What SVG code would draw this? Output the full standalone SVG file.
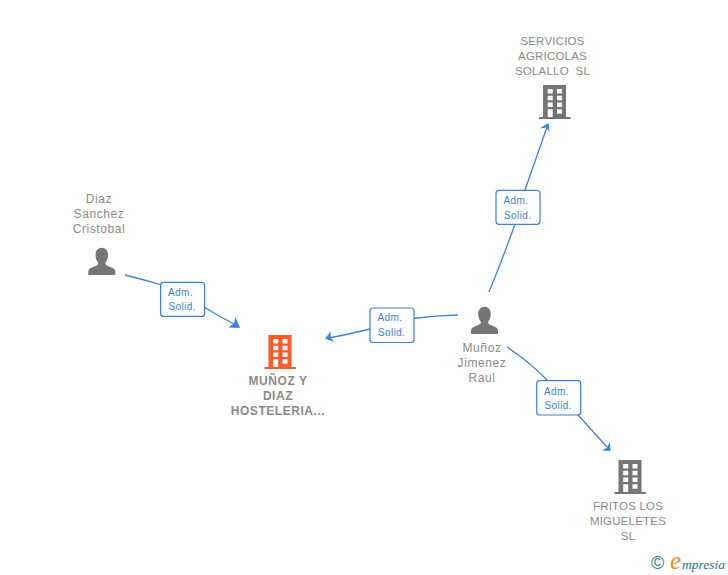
<svg xmlns="http://www.w3.org/2000/svg" xmlns:xlink="http://www.w3.org/1999/xlink" width="728" height="575" viewBox="0 0 728 575">
<style>
text{font-family:"Liberation Sans",Arial,sans-serif}
.n{font-size:11.5px;fill:#8a8a8a;text-anchor:middle;letter-spacing:.2px}
.p{font-size:12px;letter-spacing:.6px}
.b{font-weight:bold;font-size:12px;letter-spacing:.55px}
.l{font-size:10px;fill:#3d80e0;letter-spacing:.4px}
.c{fill:none;stroke:#3d80e0;stroke-width:1.3}
.a{fill:#3d80e0}
.box{fill:#fff;stroke:#3d80e0;stroke-width:1.2}
.g{fill:#757575}
.o{fill:#ff5a2b}
</style>
<defs>
<path id="bld" fill-rule="evenodd" d="M4 0H27V32H31.500V34H0V32H4ZM8.700 4V8.500H13.700V4ZM18 4V8.500H23V4ZM8.700 10.700V15.200H13.700V10.700ZM18 10.700V15.200H23V10.700ZM8.700 17.500V22H13.700V17.500ZM18 17.500V22H23V17.500ZM8.700 24.300V32H13.700V24.300ZM18 24.300V28.800H23V24.300Z"/>
<path id="per" d="M13.500 0C17.200 0 19.800 3 19.800 7.200C19.800 10.400 18.600 13 17.300 14.600V16.400C17.300 17.400 18.600 18 21.500 19C25 20.200 27 21.400 27 24V27.400H0V24C0 21.400 2 20.200 5.500 19C8.400 18 9.700 17.400 9.700 16.400V14.600C8.400 13 7.200 10.400 7.200 7.200C7.200 3 9.800 0 13.500 0Z"/>
</defs>
<g id="connectors">
<path class="c" d="M125 275Q145 280 162 285"/>
<path class="c" d="M204 307Q220 317 236 325"/>
<path class="a" d="M240 328L228.500 327.500L234 323.500L235.500 317Z"/>
<path class="c" d="M458 315Q435 315.500 413 318.500"/>
<path class="c" d="M370 329Q350 334 329 338"/>
<path class="a" d="M325 338.500L331 331.500L330.500 337.500L334 342Z"/>
<path class="c" d="M489 292Q503 258 515 224"/>
<path class="c" d="M525 190L547 127"/>
<path class="a" d="M548.500 123L549.500 132L546.500 127.500L539.500 128.500Z"/>
<path class="c" d="M507 347Q530 362 548 381"/>
<path class="c" d="M578 415L607 447"/>
<path class="a" d="M610.500 451L610 442L607 447.500L602 450.500Z"/>
</g>
<g id="label-1"><rect class="box" x="160.600" y="282.400" width="44" height="34" rx="3"/><text class="l" x="168" y="295.500">Adm.</text><text class="l" x="168.500" y="310">Solid.</text></g>
<g id="label-2"><rect class="box" x="370" y="308" width="44" height="34.500" rx="3"/><text class="l" x="377.500" y="321">Adm.</text><text class="l" x="378" y="336">Solid.</text></g>
<g id="label-3"><rect class="box" x="496" y="190.300" width="44" height="34" rx="3"/><text class="l" x="503.500" y="204">Adm.</text><text class="l" x="504" y="219">Solid.</text></g>
<g id="label-4"><rect class="box" x="536.700" y="380.700" width="44" height="34.300" rx="3"/><text class="l" x="544" y="394.500">Adm.</text><text class="l" x="544.500" y="409">Solid.</text></g>
<g id="node-servicios"><use xlink:href="#bld" href="#bld" class="g" x="539" y="85"/><text class="n" x="552.500" y="45">SERVICIOS</text><text class="n" x="552.500" y="60">AGRICOLAS</text><text class="n" x="552.500" y="75" xml:space="preserve">SOLALLO  SL</text></g>
<g id="node-diaz"><use xlink:href="#per" href="#per" class="g" x="88.300" y="247.700"/><text class="n p" x="99" y="203">Diaz</text><text class="n p" x="99" y="218">Sanchez</text><text class="n p" x="99" y="233">Cristobal</text></g>
<g id="node-munoz-diaz"><use xlink:href="#bld" href="#bld" class="o" x="264.500" y="335"/><text class="n b" x="278" y="385">MUÑOZ Y</text><text class="n b" x="278" y="400">DIAZ</text><text class="n b" x="278" y="415">HOSTELERIA...</text></g>
<g id="node-munoz-jimenez"><use xlink:href="#per" href="#per" class="g" x="471" y="306.700"/><text class="n p" x="482" y="352">Muñoz</text><text class="n p" x="482" y="367">Jimenez</text><text class="n p" x="482" y="382">Raul</text></g>
<g id="node-fritos"><use xlink:href="#bld" href="#bld" class="g" x="614.500" y="460"/><text class="n" x="628" y="510">FRITOS LOS</text><text class="n" x="628" y="525">MIGUELETES</text><text class="n" x="628" y="540">SL</text></g>
<g id="logo"><text x="657.700" y="569" font-size="18" fill="#2f7a90" text-anchor="middle">©</text><text x="670" y="569" style="font-family:'Liberation Serif',serif" font-size="25" font-style="italic" fill="#f08a1d">e</text><text x="682" y="569" style="font-family:'Liberation Serif',serif" font-size="13.500" font-style="italic" fill="#1f6f86">mpresia</text></g>
</svg>
